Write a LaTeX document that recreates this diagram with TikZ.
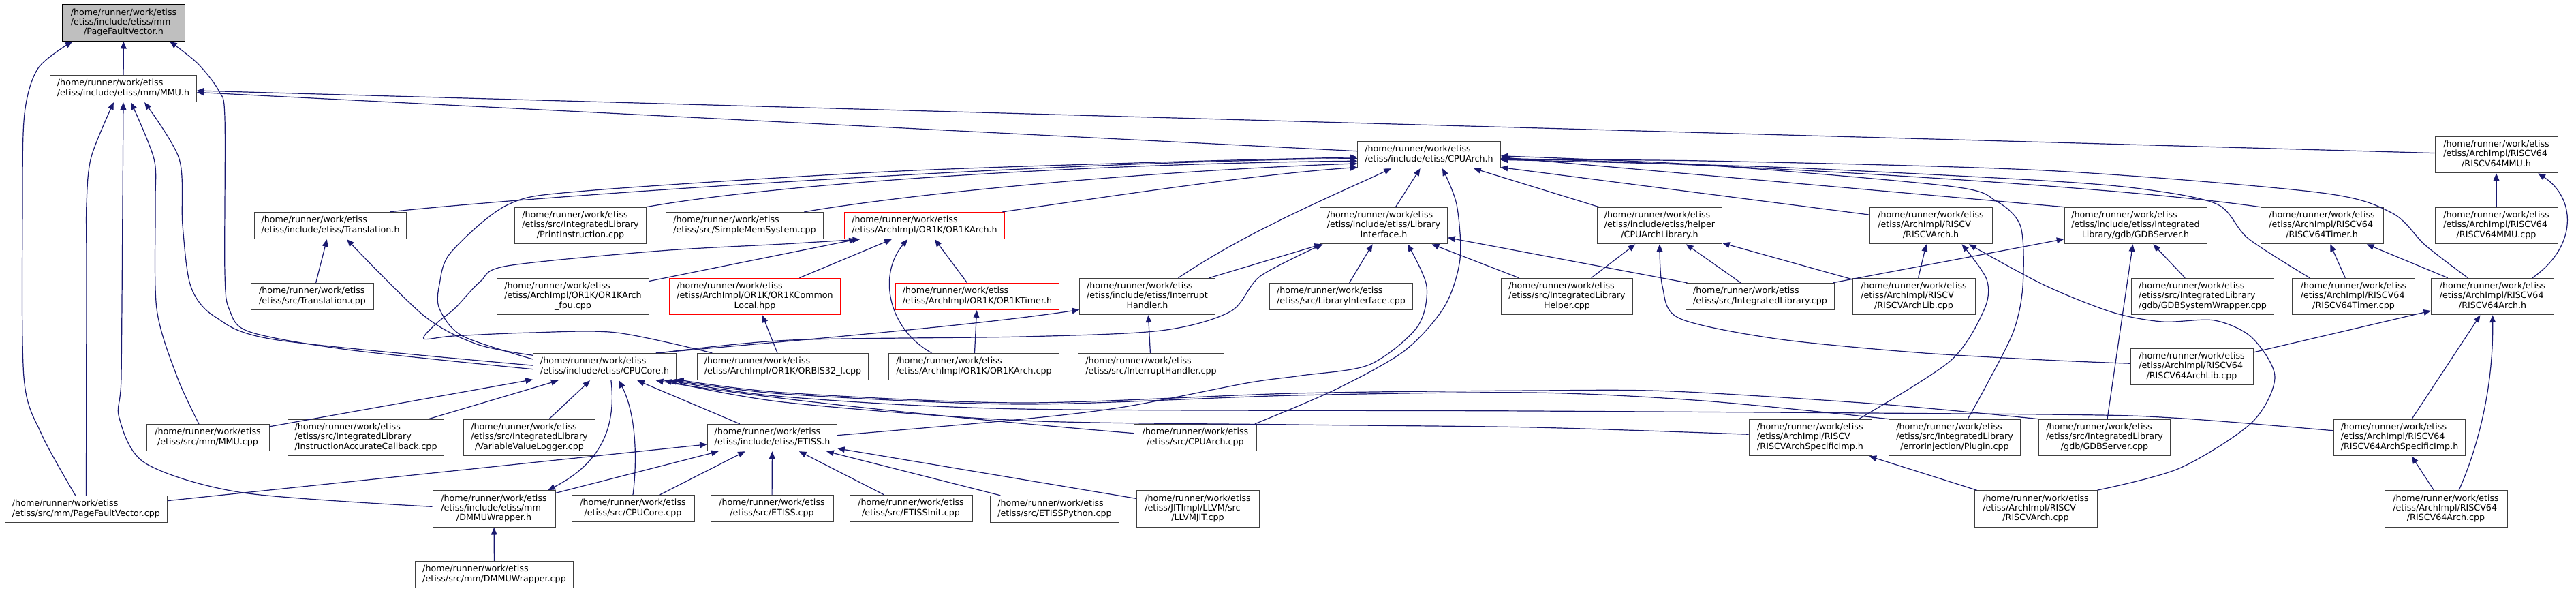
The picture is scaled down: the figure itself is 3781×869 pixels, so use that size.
\documentclass[tikz,border=0pt]{standalone}
\usepackage{fontspec}
\setmainfont{DejaVu Sans}
\usetikzlibrary{arrows.meta}
\definecolor{mBlue}{HTML}{191970}
\definecolor{mGrey}{HTML}{BFBFBF}
\definecolor{mDark}{HTML}{404040}
\definecolor{mRed}{HTML}{FF0000}
\newcommand{\ftwo}[1]{\begin{tabular}{@{}l@{}}/home/runner/work/etiss\\\multicolumn{1}{@{}c@{}}{#1}\end{tabular}}
\newcommand{\fthree}[2]{\begin{tabular}{@{}l@{}}/home/runner/work/etiss\\#1\\\multicolumn{1}{@{}c@{}}{#2}\end{tabular}}

\begin{document}
\begin{tikzpicture}[x=0.75pt, y=-0.75pt,
    filenode/.style={draw=mDark, fill=white, line width=0.75pt, inner xsep=7.8pt, inner ysep=4pt,
      minimum width=135pt, font=\fontsize{9.5}{10.75}\selectfont},
    rednode/.style={filenode, draw=mRed},
    rootnode/.style={filenode, draw=black, fill=mGrey},
    incl/.style={draw=mBlue, line width=0.9pt, -{Triangle[length=8pt, width=6.5pt]}}]
  \useasboundingbox (0,0) rectangle (3781,869);
  % rank 0 to 3
  \node[rootnode] (PFVh) at (181.5,33.5) {\fthree{/etiss/include/etiss/mm}{/PageFaultVector.h}};
  \node[filenode] (MMUh) at (181,130) {\ftwo{/etiss/include/etiss/mm/MMU.h}};
  \node[filenode] (CPUArchh) at (2097.5,227) {\ftwo{/etiss/include/etiss/CPUArch.h}};
  \node[filenode] (R64MMUh) at (3664,227) {\fthree{/etiss/ArchImpl/RISCV64}{/RISCV64MMU.h}};
  \node[filenode] (Translationh) at (485,331) {\ftwo{/etiss/include/etiss/Translation.h}};
  \node[filenode] (PrintInstr) at (852,331) {\fthree{/etiss/src/IntegratedLibrary}{/PrintInstruction.cpp}};
  \node[filenode] (SimpleMem) at (1093,331) {\ftwo{/etiss/src/SimpleMemSystem.cpp}};
  \node[rednode] (OR1KArchh) at (1357,331) {\ftwo{/etiss/ArchImpl/OR1K/OR1KArch.h}};
  \node[filenode] (LibIfh) at (2031,331) {\fthree{/etiss/include/etiss/Library}{Interface.h}};
  \node[filenode] (CPUArchLibh) at (2436,331) {\fthree{/etiss/include/etiss/helper}{/CPUArchLibrary.h}};
  \node[filenode] (RISCVArchh) at (2834,331) {\fthree{/etiss/ArchImpl/RISCV}{/RISCVArch.h}};
  \node[filenode] (GDBServerh) at (3134.5,331) {\fthree{/etiss/include/etiss/Integrated}{Library/gdb/GDBServer.h}};
  \node[filenode] (R64Timerh) at (3408,331) {\fthree{/etiss/ArchImpl/RISCV64}{/RISCV64Timer.h}};
  \node[filenode] (R64MMUcpp) at (3664,331) {\fthree{/etiss/ArchImpl/RISCV64}{/RISCV64MMU.cpp}};
  % rank 4
  \node[filenode] (Translationcpp) at (458.5,435) {\ftwo{/etiss/src/Translation.cpp}};
  \node[filenode] (OR1Kfpu) at (841,435) {\fthree{/etiss/ArchImpl/OR1K/OR1KArch}{\_fpu.cpp}};
  \node[rednode] (OR1KCommon) at (1108,435) {\fthree{/etiss/ArchImpl/OR1K/OR1KCommon}{Local.hpp}};
  \node[rednode] (OR1KTimerh) at (1434.5,435) {\ftwo{/etiss/ArchImpl/OR1K/OR1KTimer.h}};
  \node[filenode] (IntHandlerh) at (1684,435) {\fthree{/etiss/include/etiss/Interrupt}{Handler.h}};
  \node[filenode] (LibIfcpp) at (1968.5,435) {\ftwo{/etiss/src/LibraryInterface.cpp}};
  \node[filenode] (ILHelpercpp) at (2300,435) {\fthree{/etiss/src/IntegratedLibrary}{Helper.cpp}};
  \node[filenode] (ILcpp) at (2583.5,435) {\ftwo{/etiss/src/IntegratedLibrary.cpp}};
  \node[filenode] (RISCVArchLibcpp) at (2809,435) {\fthree{/etiss/ArchImpl/RISCV}{/RISCVArchLib.cpp}};
  \node[filenode] (GDBSysWrap) at (3233,435) {\fthree{/etiss/src/IntegratedLibrary}{/gdb/GDBSystemWrapper.cpp}};
  \node[filenode] (R64Timercpp) at (3454.5,435) {\fthree{/etiss/ArchImpl/RISCV64}{/RISCV64Timer.cpp}};
  \node[filenode] (R64Archh) at (3658.5,435) {\fthree{/etiss/ArchImpl/RISCV64}{/RISCV64Arch.h}};
  % rank 5
  \node[filenode] (CPUCoreh) at (887.5,538) {\ftwo{/etiss/include/etiss/CPUCore.h}};
  \node[filenode] (ORBIS32) at (1149,538) {\ftwo{/etiss/ArchImpl/OR1K/ORBIS32\_I.cpp}};
  \node[filenode] (OR1KArchcpp) at (1429.5,538) {\ftwo{/etiss/ArchImpl/OR1K/OR1KArch.cpp}};
  \node[filenode] (IntHandlercpp) at (1689.5,538) {\ftwo{/etiss/src/InterruptHandler.cpp}};
  \node[filenode] (R64ArchLibcpp) at (3217,538) {\fthree{/etiss/ArchImpl/RISCV64}{/RISCV64ArchLib.cpp}};
  % rank 6
  \node[filenode] (MMUcpp) at (305,642) {\ftwo{/etiss/src/mm/MMU.cpp}};
  \node[filenode] (IACcpp) at (537,642) {\fthree{/etiss/src/IntegratedLibrary}{/InstructionAccurateCallback.cpp}};
  \node[filenode] (VVLcpp) at (777,642) {\fthree{/etiss/src/IntegratedLibrary}{/VariableValueLogger.cpp}};
  \node[filenode] (ETISSh) at (1133.5,642) {\ftwo{/etiss/include/etiss/ETISS.h}};
  \node[filenode] (CPUArchcpp) at (1754.5,642) {\ftwo{/etiss/src/CPUArch.cpp}};
  \node[filenode] (RISCVSpecImph) at (2657,642) {\fthree{/etiss/ArchImpl/RISCV}{/RISCVArchSpecificImp.h}};
  \node[filenode] (Plugincpp) at (2869,642) {\fthree{/etiss/src/IntegratedLibrary}{/errorInjection/Plugin.cpp}};
  \node[filenode] (GDBServercpp) at (3089,642) {\fthree{/etiss/src/IntegratedLibrary}{/gdb/GDBServer.cpp}};
  \node[filenode] (R64SpecImph) at (3522,642) {\fthree{/etiss/ArchImpl/RISCV64}{/RISCV64ArchSpecificImp.h}};
  % rank 7 and 8
  \node[filenode] (PFVcpp) at (126.5,747) {\ftwo{/etiss/src/mm/PageFaultVector.cpp}};
  \node[filenode] (DMMUh) at (725,746.5) {\fthree{/etiss/include/etiss/mm}{/DMMUWrapper.h}};
  \node[filenode] (CPUCorecpp) at (929,746) {\ftwo{/etiss/src/CPUCore.cpp}};
  \node[filenode] (ETISScpp) at (1133,746) {\ftwo{/etiss/src/ETISS.cpp}};
  \node[filenode] (ETISSInit) at (1337,746) {\ftwo{/etiss/src/ETISSInit.cpp}};
  \node[filenode] (ETISSPython) at (1548,747) {\ftwo{/etiss/src/ETISSPython.cpp}};
  \node[filenode] (LLVMJIT) at (1758,746.5) {\fthree{/etiss/JITImpl/LLVM/src}{/LLVMJIT.cpp}};
  \node[filenode] (RISCVArchcpp) at (2988,746.5) {\fthree{/etiss/ArchImpl/RISCV}{/RISCVArch.cpp}};
  \node[filenode] (R64Archcpp) at (3590,746.5) {\fthree{/etiss/ArchImpl/RISCV64}{/RISCV64Arch.cpp}};
  \node[filenode] (DMMUcpp) at (725.5,843) {\ftwo{/etiss/src/mm/DMMUWrapper.cpp}};

  % straight includes
  \foreach \a/\b in {MMUh/PFVh, R64MMUh/MMUh, CPUArchh/MMUh, Translationcpp/Translationh,
      LibIfh/CPUArchh, CPUArchLibh/CPUArchh, OR1Kfpu/OR1KArchh, OR1KCommon/OR1KArchh,
      OR1KTimerh/OR1KArchh, ORBIS32/OR1KCommon, OR1KArchcpp/OR1KTimerh,
      IntHandlerh/LibIfh, LibIfcpp/LibIfh, ILHelpercpp/LibIfh, ILcpp/LibIfh, IntHandlercpp/IntHandlerh,
      ILHelpercpp/CPUArchLibh, ILcpp/CPUArchLibh, RISCVArchLibcpp/CPUArchLibh, RISCVArchLibcpp/RISCVArchh,
      RISCVArchcpp/RISCVSpecImph, ILcpp/GDBServerh, GDBServercpp/GDBServerh, GDBSysWrap/GDBServerh,
      R64Timercpp/R64Timerh, R64Archh/R64Timerh, R64MMUcpp/R64MMUh, R64ArchLibcpp/R64Archh,
      R64SpecImph/R64Archh, R64Archcpp/R64SpecImph,
      MMUcpp/CPUCoreh, IACcpp/CPUCoreh, VVLcpp/CPUCoreh, ETISSh/CPUCoreh, DMMUcpp/DMMUh,
      PFVcpp/ETISSh, DMMUh/ETISSh, CPUCorecpp/ETISSh, ETISScpp/ETISSh, ETISSInit/ETISSh,
      ETISSPython/ETISSh, LLVMJIT/ETISSh}
    \draw[incl] (\a) -- (\b);

  % PageFaultVector.h and MMU.h
  \draw[incl] plot[smooth] coordinates {(PFVcpp.128) (61,637) (35,553) (33,300) (36,167) (56,100) (PFVh.200)};
  \draw[incl] plot[smooth] coordinates {(CPUCoreh.182) (510,513) (367,487) (337,455) (330,400) (330,173) (321,133) (290,93) (PFVh.338)};
  \draw[incl] plot[smooth] coordinates {(PFVcpp.north) (127,400) (127,300) (134,230) (MMUh.235)};
  \draw[incl] plot[smooth] coordinates {(DMMUh.178) (357,723) (214,680) (175,613) (178,553) (180,300) (MMUh.south)};
  \draw[incl] plot[smooth] coordinates {(MMUcpp.123) (260,553) (230,453) (228,300) (226,233) (MMUh.299)};
  \draw[incl] plot[smooth] coordinates {(CPUCoreh.179) (408,499) (316,465) (280,420) (268,330) (263,233) (MMUh.327)};

  % CPUArch.h
  \draw[incl] (Translationh.13) .. controls (760,290) and (1500,238) .. (CPUArchh.183);
  \draw[incl] (PrintInstr.north east) .. controls (1150,268) and (1600,240) .. (CPUArchh.185);
  \draw[incl] (SimpleMem.13) .. controls (1350,282) and (1700,250) .. (CPUArchh.187);
  \draw[incl] (OR1KArchh.10) .. controls (1650,285) and (1850,255) .. (CPUArchh.190);
  \draw[incl] plot[smooth] coordinates {(CPUCoreh.174) (679,493) (645,453) (645,417) (662,370) (746,300) (860,280) (1300,252) (1700,238) (CPUArchh.182)};
  \draw[incl] (IntHandlerh.31) .. controls (1830,340) and (1950,290) .. (CPUArchh.200);
  \draw[incl] plot[smooth] coordinates {(CPUArchcpp.13) (1959,572) (2061,515) (2120,450) (2143,380) (2138,300) (CPUArchh.314)};
  \draw[incl] (RISCVArchh.170) -- (CPUArchh.350);
  \draw[incl] (GDBServerh.north west) -- (CPUArchh.358);
  \draw[incl] (R64Timerh.north west) .. controls (3100,272) and (2500,238) .. (CPUArchh.357);
  \draw[incl] plot[smooth] coordinates {(R64Timercpp.157) (3300,350) (3255,300) (3150,278) (3000,265) (2600,245) (CPUArchh.356)};
  \draw[incl] plot[smooth] coordinates {(R64Archh.143) (3560,360) (3510,312) (3400,282) (3000,250) (2500,236) (CPUArchh.356)};
  \draw[incl] plot[smooth] coordinates {(Plugincpp.55) (2913,570) (2955,487) (2969,420) (2966,333) (2930,295) (2860,273) (2500,242) (CPUArchh.359)};

  % OR1K
  \draw[incl] (OR1KArchcpp.162) .. controls (1300,480) and (1290,400) .. (OR1KArchh.219);
  \draw[incl] plot[smooth] coordinates {(ORBIS32.169) (905,488) (780,488) (665,493) (622,497) (640,475) (668,452) (705,413) (745,390) (969,368) (1150,358) (OR1KArchh.192)};

  % Translation.h, LibraryInterface.h, InterruptHandler.h
  \draw[incl] plot[smooth] coordinates {(CPUCoreh.171) (700,505) (622,463) (Translationh.320)};
  \draw[incl] plot[smooth] coordinates {(CPUCoreh.14) (1160,499) (1500,494) (1704,485) (1806,457) (1850,405) (LibIfh.197)};
  \draw[incl] plot[smooth] coordinates {(ETISSh.2) (1500,615) (1650,597) (1830,562) (1910,551) (2010,535) (2080,480) (2094,420) (LibIfh.322)};
  \draw[incl] (CPUCoreh.15) .. controls (1200,497) and (1450,475) .. (IntHandlerh.191);

  % helper and RISCV
  \draw[incl] plot[smooth] coordinates {(R64ArchLibcpp.177) (3000,528) (2811,517) (2607,497) (2465,467) (2440,420) (CPUArchLibh.south)};
  \draw[incl] plot[smooth] coordinates {(RISCVSpecImph.21) (2862,530) (2912,455) (2916,410) (RISCVArchh.329)};
  \draw[incl] plot[smooth] coordinates {(RISCVArchcpp.north east) (3199,687) (3305,620) (3339,553) (3305,495) (3250,470) (3174,472) (3100,458) (3000,418) (RISCVArchh.334)};
  \draw[incl] (R64Archh.25) .. controls (3785,360) and (3780,290) .. (R64MMUh.336);
  \draw[incl] (R64Archcpp.55) .. controls (3640,650) and (3660,560) .. (R64Archh.south);

  % CPUCore.h
  \draw[incl] (CPUCorecpp.north) .. controls (935,680) and (935,610) .. (CPUCoreh.316);
  \draw[incl] (CPUArchcpp.176) .. controls (1500,622) and (1150,590) .. (CPUCoreh.345);
  \draw[incl] plot[smooth] coordinates {(RISCVSpecImph.177) (2250,627) (1900,623) (1500,617) (1150,590) (CPUCoreh.347)};
  \draw[incl] plot[smooth] coordinates {(R64SpecImph.174) (3189,613) (3000,608) (2250,603) (1500,600) (1150,582) (CPUCoreh.348)};
  \draw[incl] plot[smooth] coordinates {(Plugincpp.north west) (2500,588) (2250,576) (1900,580) (1500,593) (1150,578) (CPUCoreh.349)};
  \draw[incl] plot[smooth] coordinates {(GDBServercpp.north west) (2760,593) (2454,574) (2250,573) (1900,577) (1500,591) (1150,576) (CPUCoreh.350)};
  \draw[incl] (CPUCoreh.295) .. controls (905,630) and (880,680) .. (DMMUh.19);
\end{tikzpicture}
\end{document}
